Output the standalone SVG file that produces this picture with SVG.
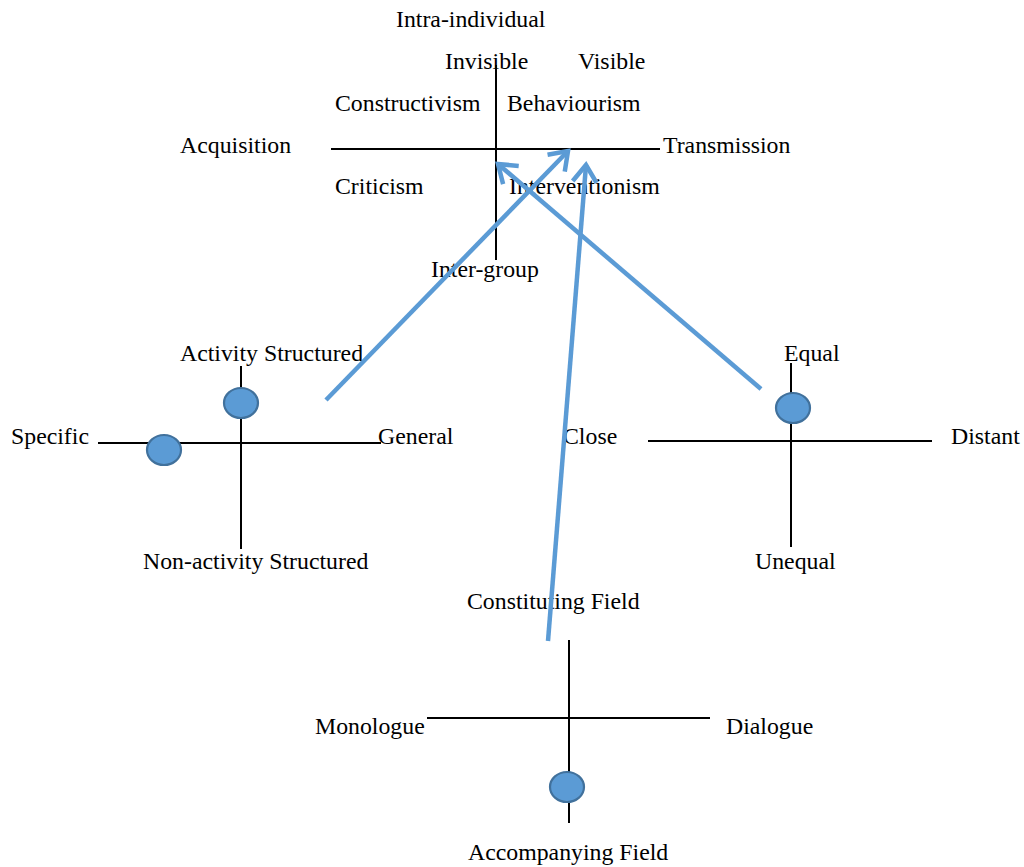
<svg xmlns="http://www.w3.org/2000/svg" width="1024" height="867" viewBox="0 0 1024 867">
  <style>
    text { font-family: "Liberation Serif", "Times New Roman", serif; font-size: 23.8px; fill: #000; }
    .axis { stroke: #000; stroke-width: 2; fill: none; }
    .dot { fill: #5B9BD5; stroke: #41719C; stroke-width: 2.2; }
    .link { stroke: #5B9BD5; stroke-width: 4.5; fill: none; marker-end: url(#chevron); }
  </style>
  <defs>
    <marker id="chevron" markerUnits="userSpaceOnUse" viewBox="-24 -14 28 28" markerWidth="28" markerHeight="28" refX="0" refY="0" orient="auto" overflow="visible">
      <path d="M -17 -12 L 0 0 L -17 12" fill="none" stroke="#5B9BD5" stroke-width="4.5" stroke-linejoin="miter"/>
    </marker>
  </defs>
  <rect width="1024" height="867" fill="#fff"/>

  <!-- Learning paradigm quadrant -->
  <g id="paradigm">
    <line class="axis" x1="331" y1="149" x2="660" y2="149"/>
    <line class="axis" x1="496" y1="65" x2="496" y2="260"/>
    <text x="396" y="27">Intra-individual</text>
    <text x="445" y="69">Invisible</text>
    <text x="578" y="69">Visible</text>
    <text x="335" y="111">Constructivism</text>
    <text x="507" y="111">Behaviourism</text>
    <text x="180" y="153">Acquisition</text>
    <text x="663" y="153">Transmission</text>
    <text x="335" y="194">Criticism</text>
    <text x="509" y="194">Interventionism</text>
    <text x="431" y="277">Inter-group</text>
  </g>

  <!-- Activity structure quadrant -->
  <g id="activity">
    <line class="axis" x1="98" y1="443" x2="381" y2="443"/>
    <line class="axis" x1="241" y1="366" x2="241" y2="549"/>
    <ellipse class="dot" cx="241" cy="403" rx="17" ry="15"/>
    <ellipse class="dot" cx="164" cy="450" rx="17" ry="15"/>
    <text x="180" y="361">Activity Structured</text>
    <text x="11" y="444">Specific</text>
    <text x="378" y="444">General</text>
    <text x="143" y="569">Non-activity Structured</text>
  </g>

  <!-- Relationship quadrant -->
  <g id="relationship">
    <line class="axis" x1="648" y1="441" x2="932" y2="441"/>
    <line class="axis" x1="791" y1="363" x2="791" y2="547"/>
    <ellipse class="dot" cx="793" cy="408" rx="17" ry="15"/>
    <text x="784" y="361">Equal</text>
    <text x="563" y="444">Close</text>
    <text x="951" y="444">Distant</text>
    <text x="755" y="569">Unequal</text>
  </g>

  <!-- Field quadrant -->
  <g id="field">
    <line class="axis" x1="427" y1="718" x2="710" y2="718"/>
    <line class="axis" x1="569" y1="640" x2="569" y2="823"/>
    <ellipse class="dot" cx="567" cy="787" rx="17" ry="15"/>
    <text x="467" y="609">Constituting Field</text>
    <text x="315" y="734">Monologue</text>
    <text x="726" y="734">Dialogue</text>
    <text x="468" y="860">Accompanying Field</text>
  </g>

  <!-- Connectors -->
  <g id="connectors">
    <line class="link" x1="326" y1="400" x2="568" y2="151"/>
    <line class="link" x1="761" y1="389" x2="498" y2="164"/>
    <line class="link" x1="548" y1="641" x2="586" y2="165"/>
  </g>
</svg>
